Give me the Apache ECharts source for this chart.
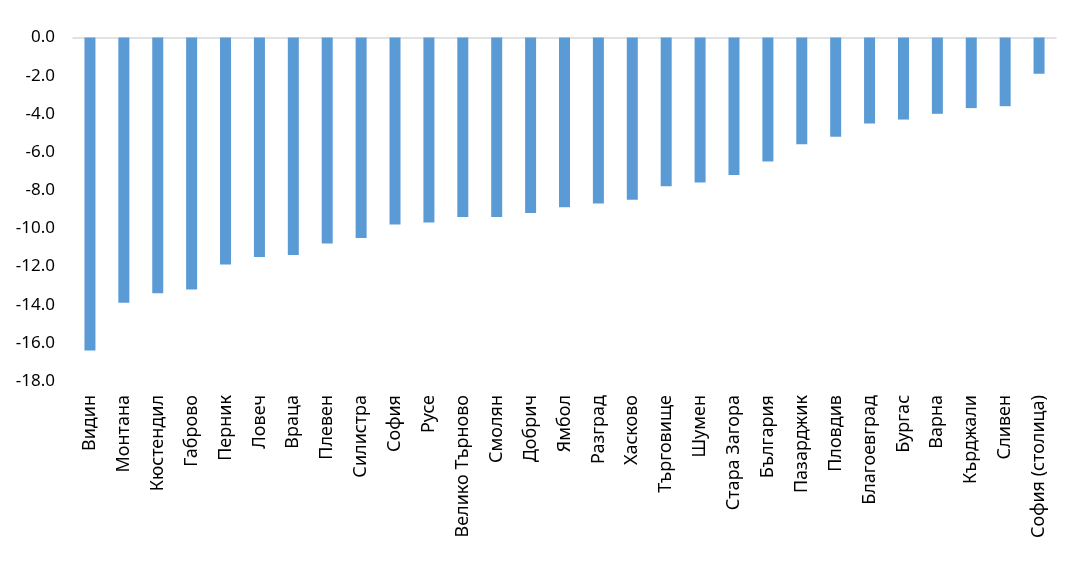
<!DOCTYPE html>
<html>
<head>
<meta charset="utf-8">
<script src="https://cdn.jsdelivr.net/npm/echarts@6/dist/echarts.min.js"></script>
<style>html,body{margin:0;padding:0;background:#fff}#c{width:1073px;height:571px}</style>
</head>
<body>
<div id="c"></div>
<script>
const categories = ["Видин","Монтана","Кюстендил","Габрово","Перник","Ловеч","Враца","Плевен","Силистра","София","Русе","Велико Търново","Смолян","Добрич","Ямбол","Разград","Хасково","Търговище","Шумен","Стара Загора","България","Пазарджик","Пловдив","Благоевград","Бургас","Варна","Кърджали","Сливен","София (столица)"];
const values = [-16.4,-13.9,-13.4,-13.2,-11.9,-11.5,-11.4,-10.8,-10.5,-9.8,-9.7,-9.4,-9.4,-9.2,-8.9,-8.7,-8.5,-7.8,-7.6,-7.2,-6.5,-5.6,-5.2,-4.5,-4.3,-4.0,-3.7,-3.6,-1.9];
const yTicks = {min:-18, max:0, interval:2};

const chart = echarts.init(document.getElementById('c'), null, {renderer:'canvas'});
const font = 'Noto Sans';
chart.setOption({
  animation:false,
  grid:{left:73, right:17, top:37.5, bottom:190},
  xAxis:[{
    type:'category', data:categories, position:'bottom',
    axisLine:{show:false, onZero:false}, axisTick:{show:false},
    axisLabel:{rotate:90, interval:0, margin:14, color:'#000', fontFamily:font, fontSize:18}
  },{
    type:'category', data:categories, position:'top',
    axisLine:{show:true, lineStyle:{color:'#D9D9D9', width:1.5}}, axisTick:{show:false}, axisLabel:{show:false}
  }],
  yAxis:{
    type:'value', min:yTicks.min, max:yTicks.max, interval:yTicks.interval,
    axisLine:{show:false}, axisTick:{show:false}, splitLine:{show:false},
    axisLabel:{margin:18, color:'#000', fontFamily:font, fontSize:17, formatter:v=>v.toFixed(1)}
  },
  series:[{type:'bar', data:values, barWidth:11, itemStyle:{color:'#5B9BD5'}}]
});
</script>
</body>
</html>
